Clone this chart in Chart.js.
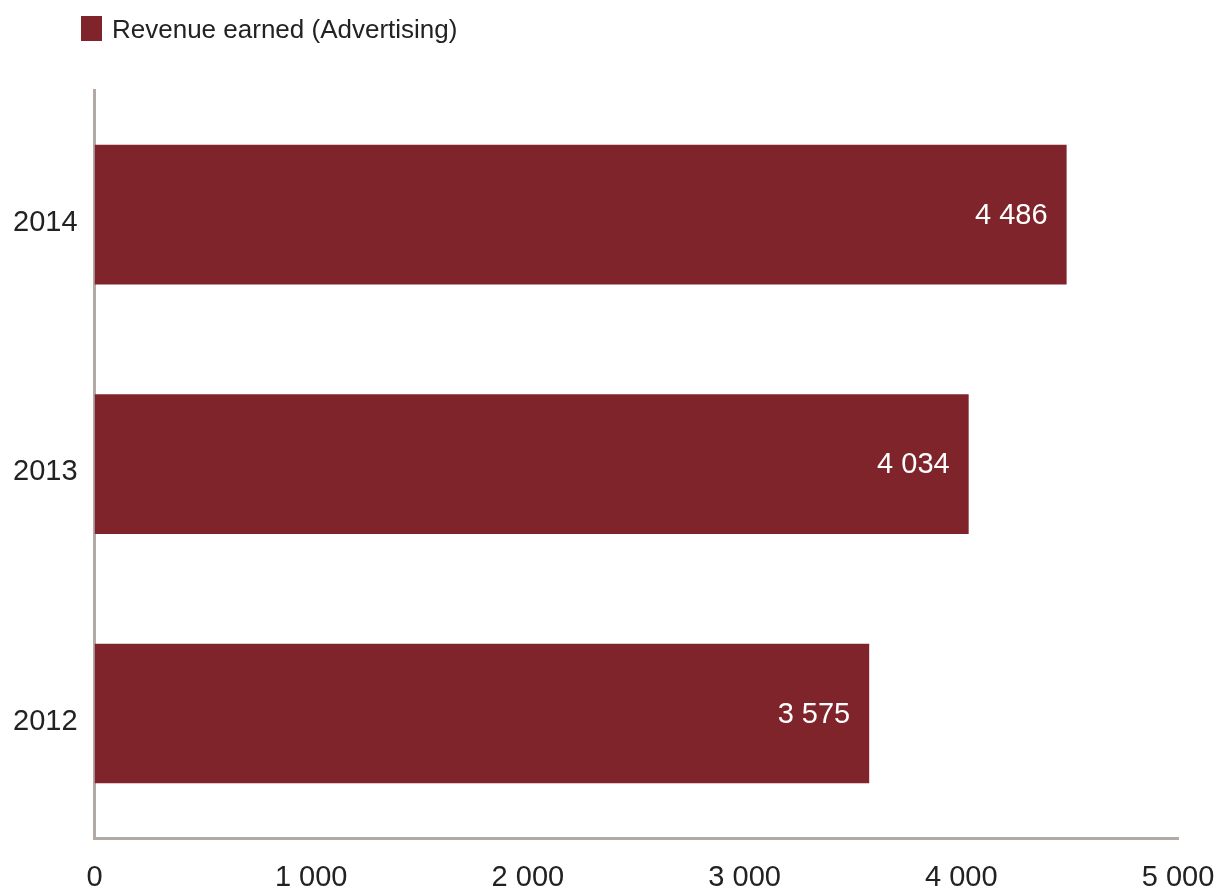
<!DOCTYPE html>
<html>
<head>
<meta charset="utf-8">
<script src="https://cdn.jsdelivr.net/npm/chart.js@4"></script>
<style>
  html, body { margin: 0; padding: 0; background: #fff; }
  #wrap { width: 1219px; height: 891px; }
</style>
</head>
<body>
<div id="wrap"><canvas id="revenue-chart"></canvas></div>
<script>
// Рекламні доходи по роках
const years = ['2014', '2013', '2012'];
const revenue = [4486, 4034, 3575];
const xTicks = [0, 1000, 2000, 3000, 4000, 5000];
const seriesName = 'Revenue earned (Advertising)';

const barColor = '#7f242a';
const axisColor = '#b3aaa6';
const fontFamily = '"Liberation Sans", Arial, sans-serif';

// Число з пробілом як роздільником тисяч
function fmt(v) {
    return String(v).replace(/\B(?=(\d{3})+(?!\d))/g, ' ');
}

// Легенда вгорі зліва
const legendPlugin = {
    id: 'topLegend',
    afterDraw(chart) {
        const ctx = chart.ctx;
        const ds = chart.data.datasets[0];
        ctx.save();
        ctx.fillStyle = ds.backgroundColor;
        ctx.fillRect(81, 16, 21, 25);
        ctx.fillStyle = '#222';
        ctx.font = '26px ' + fontFamily;
        ctx.textBaseline = 'middle';
        ctx.textAlign = 'left';
        ctx.fillText(ds.label, 112, 31);
        ctx.restore();
    }
};

// Значення всередині смуг, біля правого краю
const valuePlugin = {
    id: 'barValues',
    afterDatasetsDraw(chart) {
        const ctx = chart.ctx;
        const meta = chart.getDatasetMeta(0);
        ctx.save();
        ctx.fillStyle = '#ffffff';
        ctx.font = '29px ' + fontFamily;
        ctx.textAlign = 'right';
        ctx.textBaseline = 'middle';
        meta.data.forEach((bar, i) => {
            ctx.fillText(fmt(chart.data.datasets[0].data[i]), bar.x - 19, bar.y + 1);
        });
        ctx.restore();
    }
};

const ctx = document.getElementById('revenue-chart').getContext('2d');
const chart = new Chart(ctx, {
    type: 'bar',
    data: {
        labels: years,
        datasets: [{
            label: seriesName,
            data: revenue,
            backgroundColor: barColor,
            categoryPercentage: 1,
            barPercentage: 0.56
        }]
    },
    options: {
        indexAxis: 'y',
        responsive: true,
        maintainAspectRatio: false,
        animation: false,
        layout: {
            autoPadding: false,
            padding: { top: 90, left: -4, right: 41, bottom: -26 }
        },
        plugins: {
            legend: { display: false },
            tooltip: { enabled: false }
        },
        scales: {
            x: {
                min: 0,
                max: 5000,
                afterBuildTicks: scale => { scale.ticks = xTicks.map(v => ({ value: v })); },
                // підпис "5 000" може виходити за край області графіка
                afterFit: scale => { scale.paddingRight = 0; },
                grid: { display: false, drawTicks: false },
                border: { display: true, color: axisColor, width: 3 },
                ticks: {
                    padding: 22,
                    color: '#222',
                    font: { family: fontFamily, size: 29 },
                    maxRotation: 0,
                    callback: v => fmt(v)
                }
            },
            y: {
                grid: { display: false, drawTicks: false },
                border: { display: true, color: axisColor, width: 3 },
                ticks: {
                    padding: 17,
                    labelOffset: 8,
                    color: '#222',
                    font: { family: fontFamily, size: 29 }
                }
            }
        }
    },
    plugins: [legendPlugin, valuePlugin]
});
</script>
</body>
</html>
